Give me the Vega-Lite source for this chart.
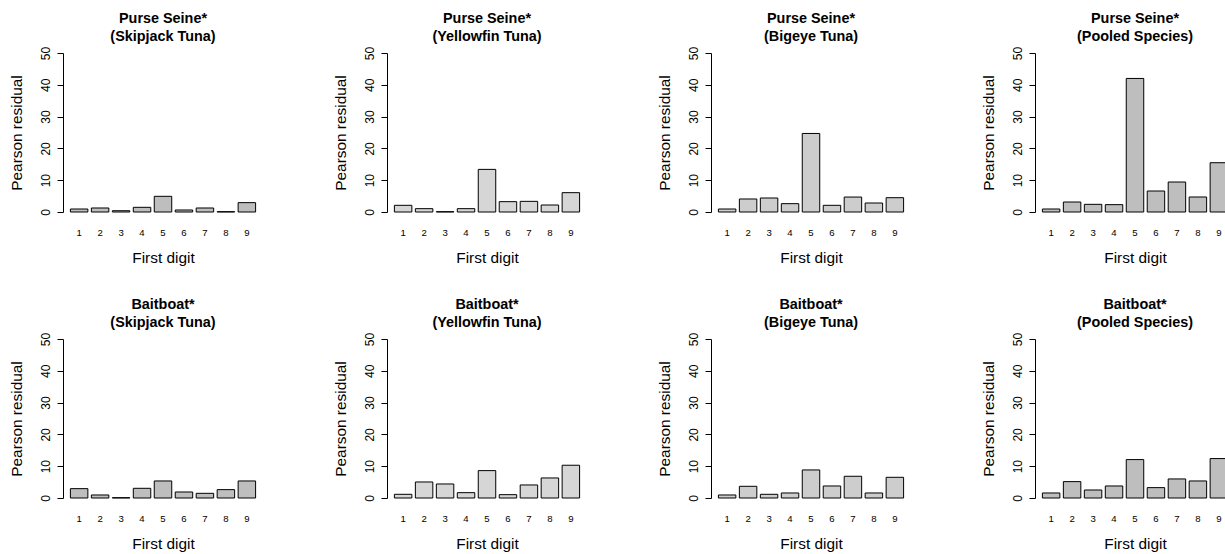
{
  "$schema": "https://vega.github.io/schema/vega-lite/v6.json",
  "background": "white",
  "padding": {"left": 8, "top": 10, "right": 0, "bottom": 0},
  "data": {
    "values": [
      {"gear": "Purse Seine", "species": "Skipjack Tuna", "digit": 1, "value": 0.94},
      {"gear": "Purse Seine", "species": "Skipjack Tuna", "digit": 2, "value": 1.26},
      {"gear": "Purse Seine", "species": "Skipjack Tuna", "digit": 3, "value": 0.4},
      {"gear": "Purse Seine", "species": "Skipjack Tuna", "digit": 4, "value": 1.47},
      {"gear": "Purse Seine", "species": "Skipjack Tuna", "digit": 5, "value": 4.93},
      {"gear": "Purse Seine", "species": "Skipjack Tuna", "digit": 6, "value": 0.63},
      {"gear": "Purse Seine", "species": "Skipjack Tuna", "digit": 7, "value": 1.26},
      {"gear": "Purse Seine", "species": "Skipjack Tuna", "digit": 8, "value": 0.1},
      {"gear": "Purse Seine", "species": "Skipjack Tuna", "digit": 9, "value": 2.94},
      {"gear": "Purse Seine", "species": "Yellowfin Tuna", "digit": 1, "value": 2.1},
      {"gear": "Purse Seine", "species": "Yellowfin Tuna", "digit": 2, "value": 1.05},
      {"gear": "Purse Seine", "species": "Yellowfin Tuna", "digit": 3, "value": 0.1},
      {"gear": "Purse Seine", "species": "Yellowfin Tuna", "digit": 4, "value": 1.05},
      {"gear": "Purse Seine", "species": "Yellowfin Tuna", "digit": 5, "value": 13.4},
      {"gear": "Purse Seine", "species": "Yellowfin Tuna", "digit": 6, "value": 3.25},
      {"gear": "Purse Seine", "species": "Yellowfin Tuna", "digit": 7, "value": 3.35},
      {"gear": "Purse Seine", "species": "Yellowfin Tuna", "digit": 8, "value": 2.2},
      {"gear": "Purse Seine", "species": "Yellowfin Tuna", "digit": 9, "value": 6.08},
      {"gear": "Purse Seine", "species": "Bigeye Tuna", "digit": 1, "value": 0.94},
      {"gear": "Purse Seine", "species": "Bigeye Tuna", "digit": 2, "value": 4.09},
      {"gear": "Purse Seine", "species": "Bigeye Tuna", "digit": 3, "value": 4.4},
      {"gear": "Purse Seine", "species": "Bigeye Tuna", "digit": 4, "value": 2.62},
      {"gear": "Purse Seine", "species": "Bigeye Tuna", "digit": 5, "value": 24.7},
      {"gear": "Purse Seine", "species": "Bigeye Tuna", "digit": 6, "value": 2.1},
      {"gear": "Purse Seine", "species": "Bigeye Tuna", "digit": 7, "value": 4.7},
      {"gear": "Purse Seine", "species": "Bigeye Tuna", "digit": 8, "value": 2.83},
      {"gear": "Purse Seine", "species": "Bigeye Tuna", "digit": 9, "value": 4.5},
      {"gear": "Purse Seine", "species": "Pooled Species", "digit": 1, "value": 0.94},
      {"gear": "Purse Seine", "species": "Pooled Species", "digit": 2, "value": 3.14},
      {"gear": "Purse Seine", "species": "Pooled Species", "digit": 3, "value": 2.41},
      {"gear": "Purse Seine", "species": "Pooled Species", "digit": 4, "value": 2.31},
      {"gear": "Purse Seine", "species": "Pooled Species", "digit": 5, "value": 42.0},
      {"gear": "Purse Seine", "species": "Pooled Species", "digit": 6, "value": 6.6},
      {"gear": "Purse Seine", "species": "Pooled Species", "digit": 7, "value": 9.43},
      {"gear": "Purse Seine", "species": "Pooled Species", "digit": 8, "value": 4.72},
      {"gear": "Purse Seine", "species": "Pooled Species", "digit": 9, "value": 15.5},
      {"gear": "Baitboat", "species": "Skipjack Tuna", "digit": 1, "value": 2.94},
      {"gear": "Baitboat", "species": "Skipjack Tuna", "digit": 2, "value": 0.95},
      {"gear": "Baitboat", "species": "Skipjack Tuna", "digit": 3, "value": 0.1},
      {"gear": "Baitboat", "species": "Skipjack Tuna", "digit": 4, "value": 3.05},
      {"gear": "Baitboat", "species": "Skipjack Tuna", "digit": 5, "value": 5.36},
      {"gear": "Baitboat", "species": "Skipjack Tuna", "digit": 6, "value": 1.89},
      {"gear": "Baitboat", "species": "Skipjack Tuna", "digit": 7, "value": 1.47},
      {"gear": "Baitboat", "species": "Skipjack Tuna", "digit": 8, "value": 2.63},
      {"gear": "Baitboat", "species": "Skipjack Tuna", "digit": 9, "value": 5.36},
      {"gear": "Baitboat", "species": "Yellowfin Tuna", "digit": 1, "value": 1.16},
      {"gear": "Baitboat", "species": "Yellowfin Tuna", "digit": 2, "value": 5.04},
      {"gear": "Baitboat", "species": "Yellowfin Tuna", "digit": 3, "value": 4.41},
      {"gear": "Baitboat", "species": "Yellowfin Tuna", "digit": 4, "value": 1.68},
      {"gear": "Baitboat", "species": "Yellowfin Tuna", "digit": 5, "value": 8.61},
      {"gear": "Baitboat", "species": "Yellowfin Tuna", "digit": 6, "value": 1.05},
      {"gear": "Baitboat", "species": "Yellowfin Tuna", "digit": 7, "value": 4.1},
      {"gear": "Baitboat", "species": "Yellowfin Tuna", "digit": 8, "value": 6.3},
      {"gear": "Baitboat", "species": "Yellowfin Tuna", "digit": 9, "value": 10.3},
      {"gear": "Baitboat", "species": "Bigeye Tuna", "digit": 1, "value": 0.95},
      {"gear": "Baitboat", "species": "Bigeye Tuna", "digit": 2, "value": 3.68},
      {"gear": "Baitboat", "species": "Bigeye Tuna", "digit": 3, "value": 1.16},
      {"gear": "Baitboat", "species": "Bigeye Tuna", "digit": 4, "value": 1.58},
      {"gear": "Baitboat", "species": "Bigeye Tuna", "digit": 5, "value": 8.82},
      {"gear": "Baitboat", "species": "Bigeye Tuna", "digit": 6, "value": 3.78},
      {"gear": "Baitboat", "species": "Bigeye Tuna", "digit": 7, "value": 6.83},
      {"gear": "Baitboat", "species": "Bigeye Tuna", "digit": 8, "value": 1.58},
      {"gear": "Baitboat", "species": "Bigeye Tuna", "digit": 9, "value": 6.51},
      {"gear": "Baitboat", "species": "Pooled Species", "digit": 1, "value": 1.58},
      {"gear": "Baitboat", "species": "Pooled Species", "digit": 2, "value": 5.15},
      {"gear": "Baitboat", "species": "Pooled Species", "digit": 3, "value": 2.52},
      {"gear": "Baitboat", "species": "Pooled Species", "digit": 4, "value": 3.78},
      {"gear": "Baitboat", "species": "Pooled Species", "digit": 5, "value": 12.08},
      {"gear": "Baitboat", "species": "Pooled Species", "digit": 6, "value": 3.26},
      {"gear": "Baitboat", "species": "Pooled Species", "digit": 7, "value": 5.99},
      {"gear": "Baitboat", "species": "Pooled Species", "digit": 8, "value": 5.36},
      {"gear": "Baitboat", "species": "Pooled Species", "digit": 9, "value": 12.4}
    ]
  },
  "transform": [
    {"calculate": "datum.gear + '*|(' + datum.species + ')'", "as": "panel"}
  ],
  "facet": {
    "field": "panel",
    "type": "nominal",
    "sort": [
      "Purse Seine*|(Skipjack Tuna)", "Purse Seine*|(Yellowfin Tuna)", "Purse Seine*|(Bigeye Tuna)", "Purse Seine*|(Pooled Species)",
      "Baitboat*|(Skipjack Tuna)", "Baitboat*|(Yellowfin Tuna)", "Baitboat*|(Bigeye Tuna)", "Baitboat*|(Pooled Species)"
    ],
    "header": {
      "title": null,
      "labelExpr": "split(datum.value, '|')",
      "labelFont": "Liberation Sans",
      "labelFontSize": 14.4,
      "labelFontWeight": "bold",
      "labelColor": "black",
      "labelLineHeight": 18,
      "labelPadding": 2
    }
  },
  "columns": 4,
  "bounds": "flush",
  "spacing": {"column": 124, "row": 127},
  "resolve": {"axis": {"x": "independent", "y": "independent"}},
  "spec": {
    "width": 200,
    "height": 159,
    "mark": {"type": "bar", "stroke": "black", "strokeWidth": 1},
    "encoding": {
      "x": {
        "field": "digit",
        "type": "ordinal",
        "scale": {"paddingInner": 0.1667, "paddingOuter": 0.353},
        "axis": {
          "title": "First digit",
          "labelAngle": 0,
          "domain": false,
          "ticks": false,
          "tickSize": 0,
          "labelFontSize": 9.6,
          "labelPadding": 15,
          "titlePadding": 13.5
        }
      },
      "y": {
        "field": "value",
        "type": "quantitative",
        "scale": {"domain": [0, 50], "nice": false},
        "axis": {
          "title": "Pearson residual",
          "values": [0, 10, 20, 30, 40, 50],
          "grid": false,
          "labelAngle": -90,
          "labelFontSize": 12,
          "tickSize": 6,
          "labelPadding": 5,
          "titlePadding": 15
        }
      },
      "fill": {
        "field": "species",
        "type": "nominal",
        "scale": {
          "domain": ["Skipjack Tuna", "Yellowfin Tuna", "Bigeye Tuna", "Pooled Species"],
          "range": ["#bebebe", "#d6d6d6", "#cdcdcd", "#bebebe"]
        },
        "legend": null
      }
    }
  },
  "config": {
    "font": "Liberation Sans",
    "view": {"stroke": null},
    "axis": {
      "labelFont": "Liberation Sans",
      "titleFont": "Liberation Sans",
      "labelColor": "black",
      "titleColor": "black",
      "domainColor": "black",
      "tickColor": "black",
      "titleFontWeight": "normal",
      "titleFontSize": 15.4,
      "labelFontWeight": "normal"
    }
  }
}
